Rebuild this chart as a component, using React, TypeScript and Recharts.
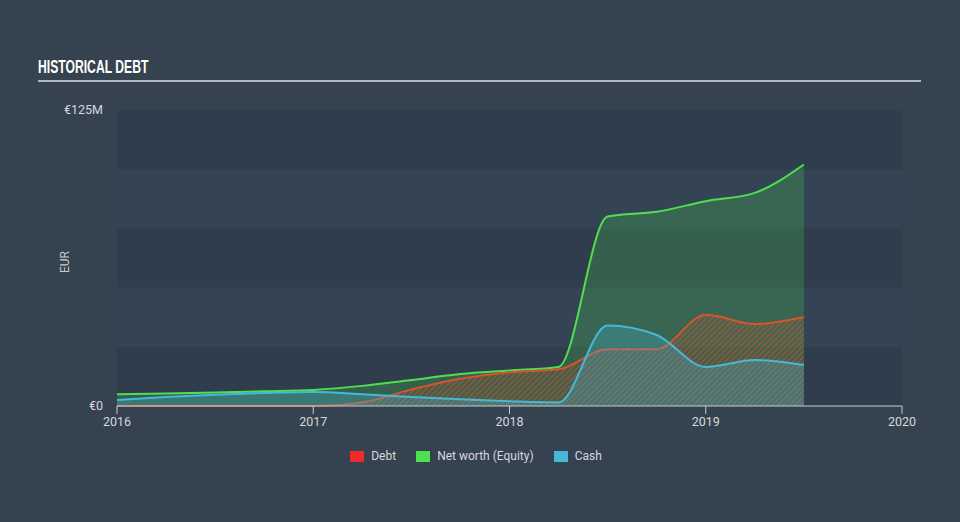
import React from 'react';
import { ComposedChart, Area, XAxis, YAxis, ReferenceArea } from 'recharts';

// quarterly points, x in decimal years, values in € millions
const periods = [2016, 2016.25, 2016.5, 2016.75, 2017, 2017.25, 2017.5, 2017.75, 2018, 2018.25, 2018.5, 2018.75, 2019, 2019.25, 2019.5];
const debt = [0, 0, 0, 0, 0, 1.5, 7, 11.5, 14.3, 15.5, 24, 24, 38.5, 34.6, 37.6];
const netWorth = [5, 5.3, 5.7, 6.2, 6.8, 8.5, 11, 13.5, 15, 16.5, 80, 82, 86.5, 90, 102];
const cash = [2.5, 3.8, 4.8, 5.5, 5.9, 5, 3.8, 2.8, 2, 1.5, 34, 30, 16.5, 19.4, 17.3];

const xTicks = [2016, 2017, 2018, 2019, 2020];
const yTicks = [0, 125];
const bands = [0, 25, 50, 75, 100, 125];

const data = periods.map((p, i) => ({ p, debt: debt[i], netWorth: netWorth[i], cash: cash[i] }));

const FONT = "Roboto, 'Open Sans', sans-serif";
const BG = '#354250';

const legendItems = [
  { label: 'Debt', color: '#ee2a2a' },
  { label: 'Net worth (Equity)', color: '#4fe04f' },
  { label: 'Cash', color: '#46b8da' },
];

export default function App() {
  return (
    <div style={{ position: 'absolute', left: 0, top: 0, width: 960, height: 522, background: BG, fontFamily: FONT }}>
      <div style={{
        position: 'absolute', left: 38, top: 56, color: '#fff', fontSize: 19, fontWeight: 700,
        fontFamily: "'Liberation Sans', sans-serif", transform: 'scaleX(0.64)', transformOrigin: 'left top',
        whiteSpace: 'nowrap',
      }}>
        HISTORICAL DEBT
      </div>
      <div style={{ position: 'absolute', left: 38, top: 80, width: 883, height: 2, background: '#b3b8bf' }} />
      <div style={{
        position: 'absolute', left: 65, top: 262, transform: 'translate(-50%, -50%) rotate(-90deg)',
        color: '#c8ccd2', fontSize: 12,
      }}>
        EUR
      </div>

      <ComposedChart
        width={960}
        height={522}
        data={data}
        margin={{ top: 110, right: 58, bottom: 0, left: 0 }}
        style={{ position: 'absolute', left: 0, top: 0 }}
      >
        <defs>
          <pattern id="debtHatch" width="4" height="4" patternUnits="userSpaceOnUse" patternTransform="rotate(45)">
            <rect width="4" height="4" fill="rgba(217,83,44,0.12)" />
            <line x1="0" y1="0" x2="0" y2="4" stroke="#d9532c" strokeWidth="1.6" strokeOpacity="0.75" />
          </pattern>
        </defs>
        {bands.slice(0, -1).map((b, i) => (
          <ReferenceArea
            key={b}
            x1={2016}
            x2={2020}
            y1={b}
            y2={bands[i + 1]}
            fill={i % 2 === 0 ? '#2f3d4d' : '#344454'}
            fillOpacity={1}
            stroke="none"
            ifOverflow="visible"
          />
        ))}
        <XAxis
          dataKey="p"
          type="number"
          domain={[2016, 2020]}
          ticks={xTicks}
          height={116}
          stroke="#c8ccd2"
          tickSize={8}
          tickMargin={3}
          tick={{ fill: '#d5d8dc', fontSize: 12.5, fontFamily: FONT }}
        />
        <YAxis
          type="number"
          domain={[0, 125]}
          ticks={yTicks}
          width={117}
          axisLine={false}
          tickLine={false}
          tickMargin={8}
          tickFormatter={(v: number) => (v === 0 ? '€0' : `€${v}M`)}
          tick={{ fill: '#d5d8dc', fontSize: 12.5, fontFamily: FONT }}
        />
        <Area
          type="monotone"
          dataKey="netWorth"
          stroke="#4fe04f"
          strokeWidth={2}
          fill="#4fe04f"
          fillOpacity={0.22}
          isAnimationActive={false}
          dot={false}
          activeDot={false}
        />
        <Area
          type="monotone"
          dataKey="debt"
          stroke="#d9532c"
          strokeWidth={2}
          fill="url(#debtHatch)"
          fillOpacity={1}
          isAnimationActive={false}
          dot={false}
          activeDot={false}
        />
        <Area
          type="monotone"
          dataKey="cash"
          stroke="#46b8da"
          strokeWidth={2}
          fill="#46b8da"
          fillOpacity={0.28}
          isAnimationActive={false}
          dot={false}
          activeDot={false}
        />
      </ComposedChart>

      <div style={{ position: 'absolute', left: -4, top: 449, width: 960, display: 'flex', justifyContent: 'center', gap: 20, color: '#d5d8dc', fontSize: 12 }}>
        {legendItems.map(it => (
          <div key={it.label} style={{ display: 'flex', alignItems: 'center', gap: 7 }}>
            <span style={{ width: 14, height: 11, background: it.color, display: 'inline-block' }} />
            <span>{it.label}</span>
          </div>
        ))}
      </div>
    </div>
  );
}
